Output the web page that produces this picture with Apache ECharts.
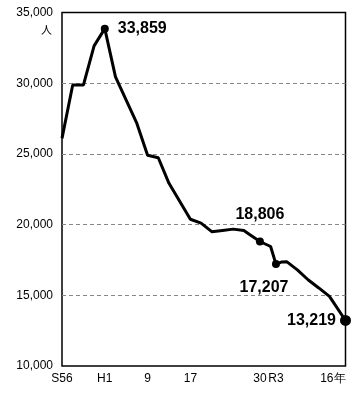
<!DOCTYPE html>
<html><head><meta charset="utf-8">
<script src="https://cdn.jsdelivr.net/npm/echarts@6/dist/echarts.min.js"></script>
<style>html,body{margin:0;padding:0;background:#fff}#c{width:364px;height:407px}</style>
</head><body><div id="c"></div>
<script>
var years = [1981,1983,1985,1987,1989,1991,1993,1995,1997,1999,2001,2003,2005,2007,2009,2011,2013,2015,2016,2018,2020,2021,2022,2023,2025,2027,2029,2031,2034];
var values = [26100,29870,29870,32640,33859,30450,28800,27150,24900,24730,22920,21650,20380,20100,19500,19590,19680,19580,19320,18806,18450,17207,17350,17380,16800,16100,15520,14920,13219];
var tickYears = [1981,1989,1997,2005,2018,2021,2034];
var tickLabels = ['S56','H1','9','17','30','R3','16年'];
var markYears = [1989,2018,2021,2034];
var unitLabel = '人';

var markCfg = {
  1989:{size:8, label:{position:'right', distance:9}},
  2018:{size:8, label:{position:'top', distance:15}},
  2021:{size:8, label:{position:'bottom', distance:12, offset:[-12,0]}},
  2034:{size:11, label:{position:'left', distance:4}}
};
var data = years.map(function(y,i){
  var item = {value:[y, values[i]]};
  if (markYears.indexOf(y) >= 0) {
    var c = markCfg[y];
    item.symbol = 'circle';
    item.symbolSize = c.size;
    item.label = Object.assign({show:true, formatter: function(p){return p.value[1].toLocaleString('en-US');},
      fontSize:16, fontWeight:'bold', color:'#000', fontFamily:'Liberation Sans'}, c.label);
  } else {
    item.symbol = 'none';
  }
  return item;
});

var chart = echarts.init(document.getElementById('c'));
chart.setOption({
  animation:false,
  backgroundColor:'#fff',
  grid:{left:62, right:18.5, top:12.5, bottom:41, show:true, borderColor:'#000', borderWidth:1.5, containLabel:false},
  xAxis:{type:'value', min:1981, max:2034,
    axisLine:{show:false}, axisTick:{show:false}, splitLine:{show:false},
    axisLabel:{customValues:tickYears, margin:7, fontSize:12, color:'#000', fontFamily:'Liberation Sans',
      alignMaxLabel:'right',
      formatter:function(v){var i=tickYears.indexOf(v); return i>=0?tickLabels[i]:'';}}
  },
  yAxis:{type:'value', min:10000, max:35000, interval:5000,
    axisLine:{show:false}, axisTick:{show:false},
    splitLine:{show:true, showMinLine:false, showMaxLine:false, lineStyle:{color:'#888', type:[4,3], width:1}},
    axisLabel:{margin:9, fontSize:12, color:'#000', fontFamily:'Liberation Sans',
      formatter:function(v){return v.toLocaleString('en-US');}}
  },
  graphic:[{type:'text', left:41, top:24, style:{text:unitLabel, fontSize:11, fill:'#000', fontFamily:'Noto Sans CJK JP'}}],
  series:[{type:'line', data:data, clip:false, showAllSymbol:true,
    lineStyle:{color:'#000', width:3}, itemStyle:{color:'#000'}, z:5}]
});
</script></body></html>
